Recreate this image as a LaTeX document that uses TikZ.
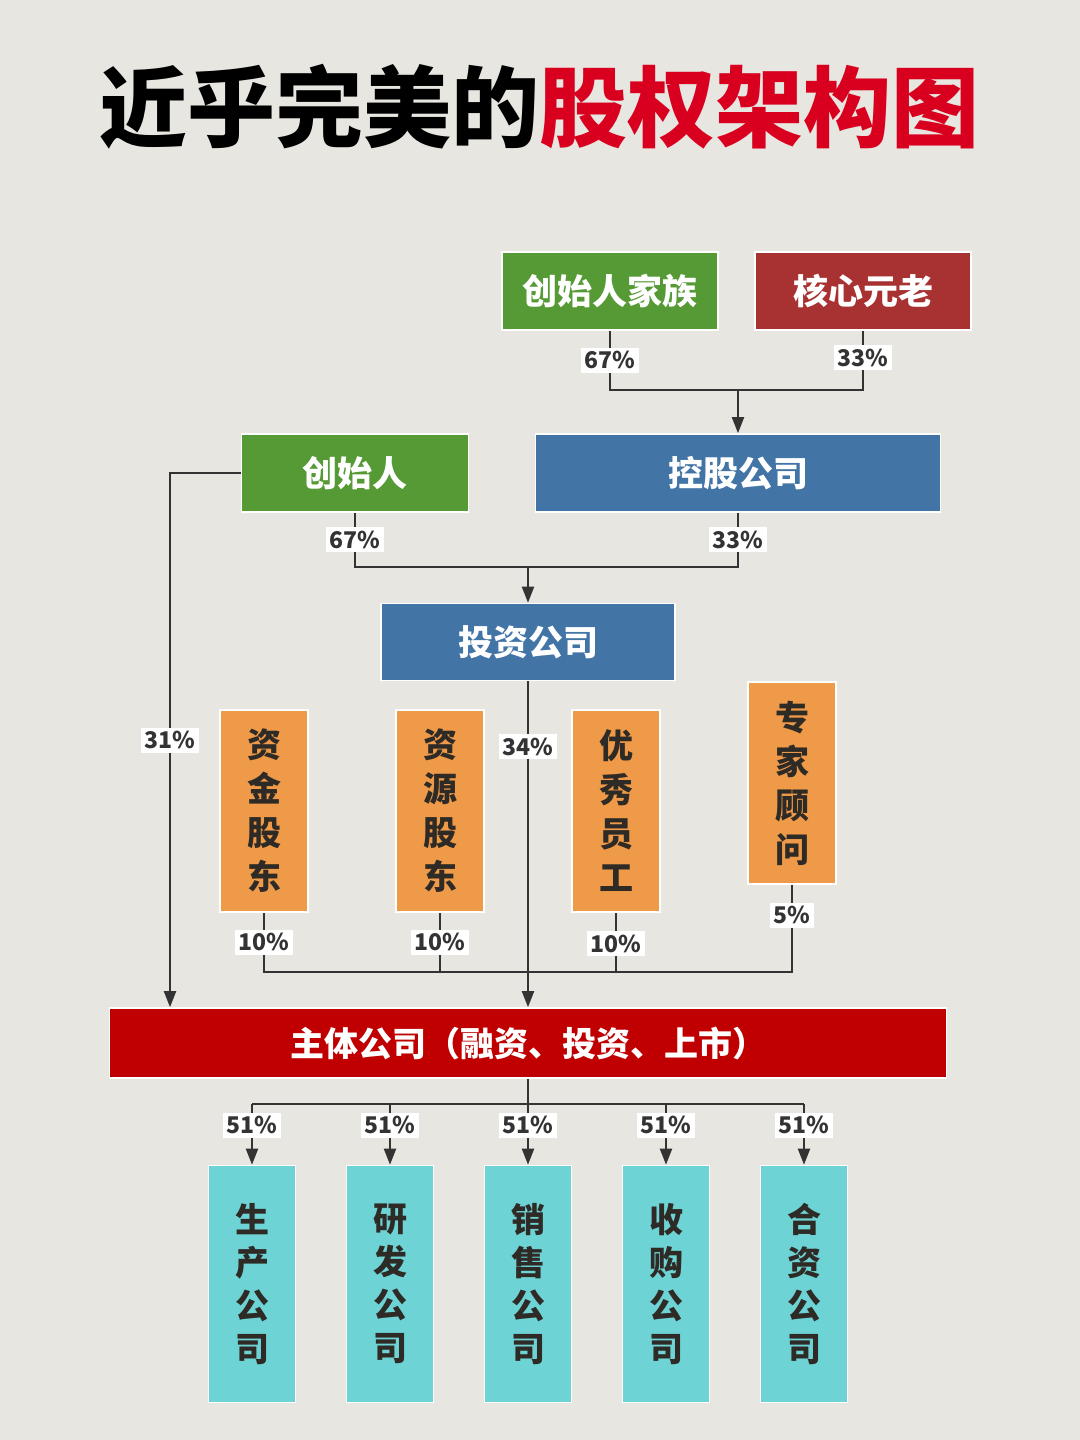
\documentclass[tikz,border=0pt]{standalone}
\usepackage{fontspec}
\setmainfont{Noto Sans CJK SC}
\usetikzlibrary{arrows.meta}
\definecolor{bg}{HTML}{E8E6E0}
\definecolor{famgreen}{HTML}{559A35}
\definecolor{corered}{HTML}{A83232}
\definecolor{stockblue}{HTML}{4274A5}
\definecolor{shareorange}{HTML}{EE9A48}
\definecolor{subcyan}{HTML}{6ED3D4}
\definecolor{mainred}{HTML}{C00000}
\definecolor{titlered}{HTML}{D8001E}
\definecolor{textdark}{HTML}{2E2A26}
\definecolor{linegray}{HTML}{333333}

\begin{document}
\begin{tikzpicture}[x=0.5pt,y=-0.5pt,
  box/.style={draw=white,line width=0.8pt,text=white,inner sep=0pt,font=\bfseries\fontsize{17.5}{21}\selectfont},
  vbox/.style={draw=white,line width=0.8pt,inner sep=0pt,align=center,text=textdark,font=\bfseries\fontsize{17}{22}\selectfont},
  pct/.style={fill=white,text=linegray,inner sep=1.8pt,font=\bfseries\fontsize{11.5}{12}\selectfont},
  link/.style={draw=linegray,line width=1pt},
  arr/.style={link,-{Triangle[length=8pt,width=6pt]}}]
  \fill[bg] (0,0) rectangle (1080,1440);
  \useasboundingbox (0,0) rectangle (1080,1440);

  % title
  \node[font=\bfseries\fontsize{44}{48}\selectfont] (title) at (539,107) {近乎完美的\textcolor{titlered}{股权架构图}};

  % upper boxes
  \node[box,fill=famgreen,minimum width=108pt,minimum height=39pt] (family) at (610,291) {创始人家族};
  \node[box,fill=corered,minimum width=108pt,minimum height=39pt] (elders) at (863,291) {核心元老};
  \node[box,fill=stockblue,minimum width=202.5pt,minimum height=39pt] (holding) at (738,473) {控股公司};
  \node[box,fill=famgreen,minimum width=113.5pt,minimum height=39pt] (founder) at (355,473) {创始人};
  \node[box,fill=stockblue,minimum width=147pt,minimum height=38.5pt] (invest) at (528,642) {投资公司};

  % shareholders
  \foreach \name/\x/\y/\txt in {capital/264/811/{资\\金\\股\\东},resource/440/811/{资\\源\\股\\东},
      staff/616/811/{优\\秀\\员\\工},expert/792/783/{专\\家\\顾\\问}}
    \node[vbox,fill=shareorange,minimum width=44pt,minimum height=101pt] (\name) at (\x,\y) {\txt};

  \node[box,fill=mainred,minimum width=418.5pt,minimum height=35pt,font=\bfseries\fontsize{17}{21}\selectfont] (main) at (528,1043) {主体公司（融资、投资、上市）};

  % subsidiaries
  \foreach \name/\x/\txt in {prod/252/{生\\产\\公\\司},rnd/390/{研\\发\\公\\司},sales/528/{销\\售\\公\\司},
      acq/666/{收\\购\\公\\司},jv/804/{合\\资\\公\\司}}
    \node[vbox,fill=subcyan,minimum width=43.5pt,minimum height=118.5pt,font=\bfseries\fontsize{17}{21.5}\selectfont] (\name) at (\x,1284) {\txt};

  % connectors
  \coordinate (j1) at (738,390);
  \draw[link] (family.south) -- node[pct]{67\%} (family.south |- j1) -- (elders.south |- j1) -- node[pct,pos=0.55]{33\%} (elders.south);
  \draw[arr] (j1) -- (holding.north);

  \coordinate (j2) at (528,567);
  \draw[link] (founder.south) -- node[pct]{67\%} (founder.south |- j2) -- (holding.south |- j2) -- node[pct]{33\%} (holding.south);
  \draw[arr] (j2) -- (invest.north);

  \coordinate (c1) at (170,473);
  \draw[arr] (founder.west) -- (c1) -- node[pct]{31\%} (c1 |- main.north);
  \draw[arr] (invest.south) -- node[pct,pos=0.2]{34\%} (main.north);

  \coordinate (j3) at (528,972);
  \draw[link] (capital.south) -- node[pct]{10\%} (capital.south |- j3) -- (expert.south |- j3) -- node[pct,pos=0.65]{5\%} (expert.south);
  \draw[link] (resource.south) -- node[pct]{10\%} (resource.south |- j3);
  \draw[link] (staff.south) -- node[pct,pos=0.52]{10\%} (staff.south |- j3);

  \coordinate (j4) at (528,1104);
  \draw[link] (main.south) -- (j4);
  \draw[link] (prod.north |- j4) -- (jv.north |- j4);
  \foreach \name in {prod,rnd,sales,acq,jv}
    \draw[arr] (\name.north |- j4) -- node[pct,pos=0.35]{51\%} (\name.north);
\end{tikzpicture}
\end{document}
